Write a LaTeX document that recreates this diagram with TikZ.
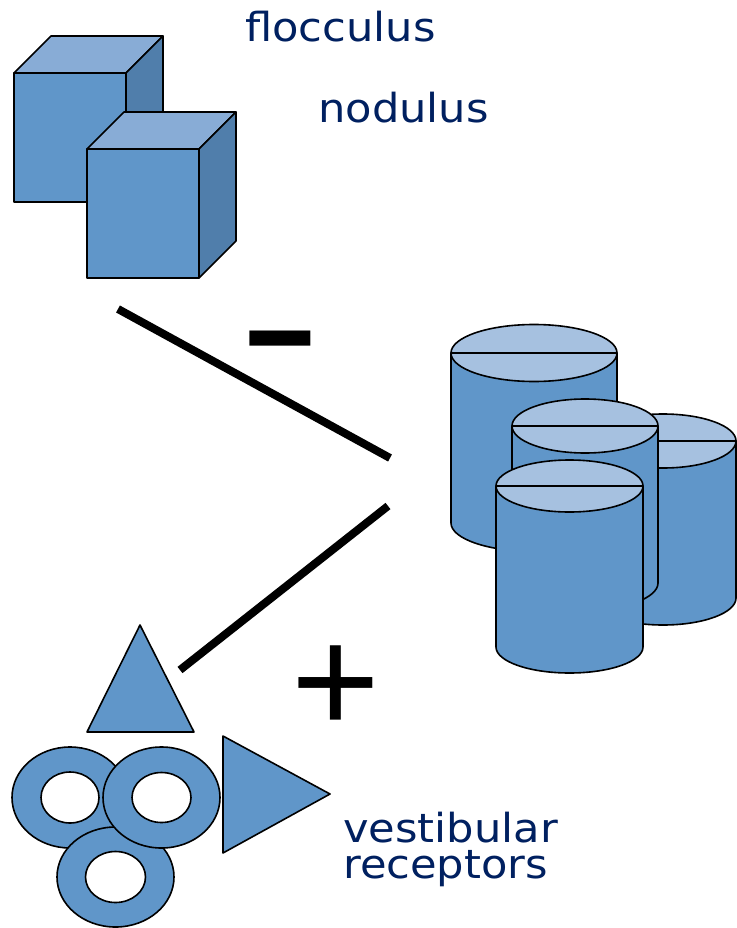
\documentclass[tikz,border=0pt]{standalone}
\usepackage{fontspec}
\usepackage{graphicx}
\newfontfamily\labelfont[FakeStretch=1.08]{DejaVu Sans}
\newfontfamily\signfont{Liberation Sans}
\definecolor{navy}{HTML}{002060}
\definecolor{frontblue}{HTML}{6096C9}
\definecolor{topblue}{HTML}{88ACD6}
\definecolor{sideblue}{HTML}{507EAB}
\definecolor{lidblue}{HTML}{A6C1E0}
\tikzset{
  outline/.style={draw=black, line width=1.6pt, line join=round},
  frontface/.style={outline, fill=frontblue},
  topface/.style={outline, fill=topblue},
  sideface/.style={outline, fill=sideblue},
  lidface/.style={outline, fill=lidblue},
  link/.style={draw=black, line width=8pt, line cap=butt},
  label/.style={text=navy, inner sep=0pt, anchor=base west, font=\labelfont\fontsize{40}{36}\selectfont, align=left},
}
% cube: #1,#2 = front top-left corner; w=112 h=129 d=37
\newcommand\mycube[2]{%
  \path[frontface] (#1,#2) rectangle ({#1+112},{#2+129});
  \path[topface] (#1,#2) -- ({#1+37},{#2-37}) -- ({#1+149},{#2-37}) -- ({#1+112},#2) -- cycle;
  \path[sideface] ({#1+112},#2) -- ({#1+149},{#2-37}) -- ({#1+149},{#2+92}) -- ({#1+112},{#2+129}) -- cycle;
}
% cylinder: #1 cx, #2 top y, #3 bottom y, #4 rx, #5 ry
\newcommand\mycyl[5]{%
  \path[frontface] ({#1-#4},#2) -- ({#1-#4},#3) arc[start angle=180, end angle=0, x radius=#4, y radius=#5] -- ({#1+#4},#2) -- cycle;
  \path[lidface] (#1,#2) ellipse[x radius=#4, y radius=#5];
  \draw[outline] ({#1-#4},#2) -- ({#1+#4},#2);
}
% ring: #1 cx, #2 cy, #3 outer rx, #4 outer ry, #5 inner rx, #6 inner ry
\newcommand\myring[6]{%
  \path[outline, fill=frontblue, even odd rule] (#1,#2) ellipse[x radius=#3, y radius=#4] (#1,#2) ellipse[x radius=#5, y radius=#6];
}
\begin{document}
\begin{tikzpicture}[x=1pt, y=-1pt]
\useasboundingbox (0,0) rectangle (736,928);
\fill[white] (0,0) rectangle (736,928);

% cubes (flocculus / nodulus)
\mycube{14}{73}
\mycube{87}{149}

% labels
\node[label] (flocculus) at (245,42) {flocculus};
\node[label] (nodulus) at (318,123) {nodulus};
\node[label] (vestibular) at (343,878) {vestibular\\receptors};

% cylinders
\mycyl{534}{353}{523}{83}{28.5}
\mycyl{663}{441}{598}{73}{27}
\mycyl{585}{426}{583}{73}{27}
\mycyl{569.5}{486}{647}{73.5}{26}

% rings
\myring{70}{797.5}{58}{50.5}{29}{25.5}
\myring{115.5}{877}{58.5}{50}{30}{25.5}
\myring{161.5}{797.5}{58.5}{50.5}{29.5}{25}

% triangles
\path[frontface] (140,625) -- (194,732) -- (87,732) -- cycle;
\path[frontface] (223,736) -- (330,794) -- (223,853) -- cycle;

% connectors
\coordinate (inhibA) at (118,309);
\coordinate (inhibB) at (390,458);
\coordinate (exciteA) at (388,506);
\coordinate (exciteB) at (180,670);
\draw[link] (inhibA) -- (inhibB);
\draw[link] (exciteA) -- (exciteB);

% signs
\node[inner sep=0pt] (minus) at (280,351) {\scalebox{2.4}[1.27]{\signfont\bfseries\fontsize{100}{100}\selectfont -}};
\node[inner sep=0pt] (plus) at (336,690) {\signfont\fontsize{152}{152}\selectfont +};
\end{tikzpicture}
\end{document}
